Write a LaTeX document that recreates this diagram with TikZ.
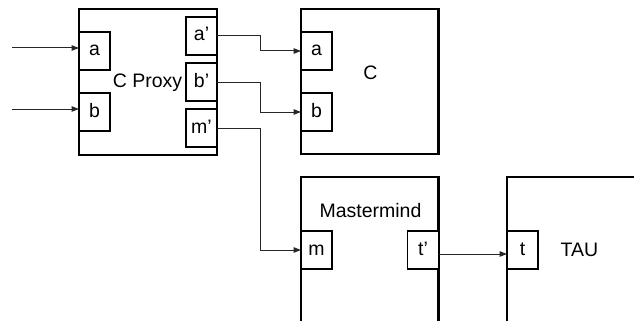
\documentclass[tikz,border=0pt]{standalone}
\usepackage{fontspec}
\setmainfont{Liberation Sans}
\usetikzlibrary{arrows.meta}
\begin{document}
\begin{tikzpicture}[x=1pt,y=-1pt,
  bigbox/.style={draw=black,line width=2.2pt,fill=white,inner sep=0pt,outer sep=0pt,rectangle},
  port/.style={draw=black,line width=1.8pt,fill=white,inner sep=0pt,outer sep=0pt,rectangle,
    minimum width=31pt,minimum height=38pt,text height=10pt,text depth=0pt,font=\fontsize{19.5}{22}\selectfont},
  lbl/.style={anchor=base,inner sep=0pt,font=\fontsize{19.5}{22}\selectfont},
  conn/.style={draw=black!85,line width=1pt,-{Triangle[length=7.5pt,width=5.5pt]}}]
\clip (0,0) rectangle (634,321);
\fill[white] (0,0) rectangle (634,321);
% big boxes
\node[bigbox,minimum width=138pt,minimum height=146pt] (cp) at (148,82) {};
\node[bigbox,minimum width=137.5pt,minimum height=145pt] (cb) at (369.7,81.5) {};
\node[bigbox,minimum width=137.5pt,minimum height=183pt] (mm) at (369.7,268.2) {};
\node[bigbox,minimum width=200pt,minimum height=183pt] (tau) at (607,268.2) {};
% ports
\node[port] (cpa) at (94.5,51) {a};
\node[port] (cpb) at (94.5,112) {b};
\node[port] (cpap) at (201.5,36) {a’};
\node[port] (cpbp) at (201.5,82) {b’};
\node[port] (cpmp) at (201.5,128) {m’};
\node[port] (ca) at (316.5,51) {a};
\node[port] (cbb) at (316.5,112) {b};
\node[port] (mmm) at (316.5,250) {m};
\node[port] (mmt) at (423,250) {t’};
\node[port] (taut) at (522.5,250) {t};
% labels
\node[lbl] (cpl) at (147.5,87) {C Proxy};
\node[lbl] (cl) at (370.5,79) {C};
\node[lbl] (mml) at (370.5,217) {Mastermind};
\node[lbl] (taul) at (579.5,256) {TAU};
% connectors
\coordinate (in1) at (12,48);
\coordinate (in2) at (12,109);
\draw[conn] (in1) -- (in1 -| cpa.west);
\draw[conn] (in2) -- (in2 -| cpb.west);
\draw[conn] (cpap.east) -- ++(43,0) |- (ca.west);
\draw[conn] (cpbp.east) -- ++(43,0) |- (cbb.west);
\draw[conn] (cpmp.east) -- ++(43,0) |- (mmm.west);
\draw[conn] ([yshift=-4pt]mmt.east) -- ([yshift=-4pt]taut.west);
\end{tikzpicture}
\end{document}
